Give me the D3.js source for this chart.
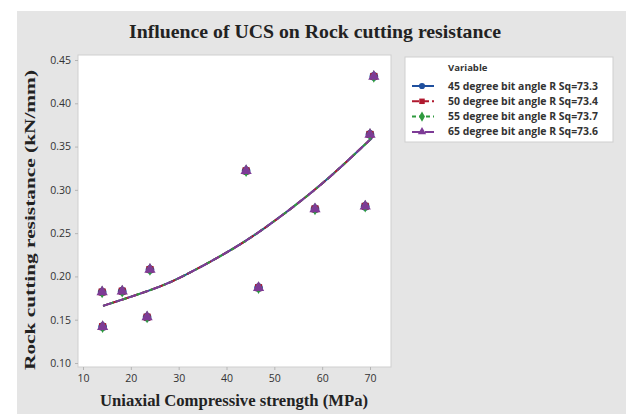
<!DOCTYPE html>
<html>
<head>
<meta charset="utf-8">
<script src="https://cdn.jsdelivr.net/npm/d3@7"></script>
<style>
  html, body { margin: 0; padding: 0; background: #fff; }
  svg { display: block; }
</style>
</head>
<body>
<script>
// Measured points: uniaxial compressive strength (MPa) vs cutting resistance (kN/mm)
const ucs = [14.0, 14.1, 18.2, 23.4, 24.0, 44.1, 46.7, 58.5, 69.0, 70.0, 70.8];
const resistance = [0.182, 0.142, 0.183, 0.153, 0.208, 0.322, 0.187, 0.278, 0.281, 0.364, 0.431];

// Fitted curve, read along its length
const fitX = [14.2, 19.8, 26.1, 30.3, 40.7, 47.7, 57.5, 63.7, 70.4];
const fitY = [0.166, 0.176, 0.188, 0.198, 0.229, 0.254, 0.295, 0.325, 0.360];

const seriesNames = [
  "45 degree bit angle R Sq=73.3",
  "50 degree bit angle R Sq=73.4",
  "55 degree bit angle R Sq=73.7",
  "65 degree bit angle R Sq=73.6"
];
const seriesColors = ["#1f4f9e", "#b0182e", "#2e9a3e", "#7d3b96"];
const seriesSymbols = [d3.symbolCircle, d3.symbolSquare, d3.symbolDiamond, d3.symbolTriangle];
const symbolSizes = [60, 50, 45, 55];
const seriesDash = [null, "7,3", "4,3", "9,4"];

const xTicks = [10, 20, 30, 40, 50, 60, 70];
const yTicks = [0.10, 0.15, 0.20, 0.25, 0.30, 0.35, 0.40, 0.45];

const W = 626, H = 414;
const svg = d3.select("body").append("svg").attr("width", W).attr("height", H);

// figure background
svg.append("rect").attr("x", 17).attr("y", 11).attr("width", W - 17).attr("height", H - 11)
  .attr("fill", "#e5e5e5");

// plot frame
const plot = { left: 78, top: 55, right: 391, bottom: 367 };
svg.append("rect")
  .attr("x", plot.left).attr("y", plot.top)
  .attr("width", plot.right - plot.left).attr("height", plot.bottom - plot.top)
  .attr("fill", "#fff").attr("stroke", "#cfcfcf");

const x = d3.scaleLinear().domain([10, 70]).range([83, 370]);
const y = d3.scaleLinear().domain([0.10, 0.45]).range([363, 60]);

// axes
const xAxis = d3.axisBottom(x).tickValues(xTicks).tickSize(3).tickPadding(5).tickFormat(d3.format("d"));
const yAxis = d3.axisLeft(y).tickValues(yTicks).tickSize(3).tickPadding(4).tickFormat(d3.format(".2f"));

const gx = svg.append("g").attr("transform", `translate(0,${plot.bottom})`).call(xAxis);
const gy = svg.append("g").attr("transform", `translate(${plot.left},0)`).call(yAxis);
[gx, gy].forEach(g => {
  g.select(".domain").remove();
  g.selectAll(".tick line").attr("stroke", "#b5b5b5");
  g.selectAll(".tick text").attr("fill", "#333").style("font-family", "'Open Sans', 'DejaVu Sans', sans-serif")
    .style("font-size", "10.5px");
});

// fitted lines, one per bit angle (nearly coincident)
const line = d3.line().x((d, i) => x(fitX[i])).y(d => y(d)).curve(d3.curveBasis);
seriesNames.forEach((name, s) => {
  svg.append("path").datum(fitY)
    .attr("d", line)
    .attr("fill", "none")
    .attr("stroke", seriesColors[s])
    .attr("stroke-width", 2)
    .attr("stroke-dasharray", seriesDash[s]);
});

// points for each series, drawn on top of each other
seriesNames.forEach((name, s) => {
  svg.append("g").selectAll("path").data(resistance).join("path")
    .attr("transform", (d, i) => `translate(${x(ucs[i])},${y(d)})`)
    .attr("d", d3.symbol().type(seriesSymbols[s]).size(symbolSizes[s]))
    .attr("fill", seriesColors[s]);
});

// titles
const serif = "'Liberation Serif', 'Times New Roman', serif";
svg.append("text").attr("x", 315).attr("y", 38).attr("text-anchor", "middle")
  .attr("textLength", 372).attr("lengthAdjust", "spacingAndGlyphs")
  .style("font-family", serif).style("font-weight", "bold").style("font-size", "19.5px")
  .attr("fill", "#222").text("Influence of UCS on Rock cutting resistance");

svg.append("text").attr("x", 234).attr("y", 406).attr("text-anchor", "middle")
  .attr("textLength", 268).attr("lengthAdjust", "spacingAndGlyphs")
  .style("font-family", serif).style("font-weight", "bold").style("font-size", "16px")
  .attr("fill", "#222").text("Uniaxial Compressive strength (MPa)");

svg.append("text").attr("transform", "translate(35,220) rotate(-90)").attr("text-anchor", "middle")
  .attr("textLength", 300).attr("lengthAdjust", "spacingAndGlyphs")
  .style("font-family", serif).style("font-weight", "bold").style("font-size", "15.5px")
  .attr("fill", "#222").text("Rock cutting resistance (kN/mm)");

// legend
const lg = svg.append("g").attr("transform", "translate(405,57)");
lg.append("rect").attr("width", 208).attr("height", 85).attr("fill", "#fff").attr("stroke", "#cfcfcf");
const sans = "'Open Sans', 'DejaVu Sans', sans-serif";
lg.append("text").attr("x", 43).attr("y", 14)
  .style("font-family", sans).style("font-weight", "bold").style("font-size", "9.5px")
  .attr("fill", "#333").text("Variable");
seriesNames.forEach((name, s) => {
  const yy = 29 + s * 15.3;
  lg.append("line").attr("x1", 7).attr("x2", 29).attr("y1", yy).attr("y2", yy)
    .attr("stroke", seriesColors[s]).attr("stroke-width", 2)
    .attr("stroke-dasharray", seriesDash[s]);
  lg.append("path").attr("transform", `translate(17,${yy})`)
    .attr("d", d3.symbol().type(seriesSymbols[s]).size(30))
    .attr("fill", seriesColors[s]);
  lg.append("text").attr("x", 43).attr("y", yy + 3.5)
    .attr("textLength", 150).attr("lengthAdjust", "spacingAndGlyphs")
    .style("font-family", sans).style("font-weight", "bold").style("font-size", "10px")
    .attr("fill", "#333").text(name);
});
</script>
</body>
</html>
